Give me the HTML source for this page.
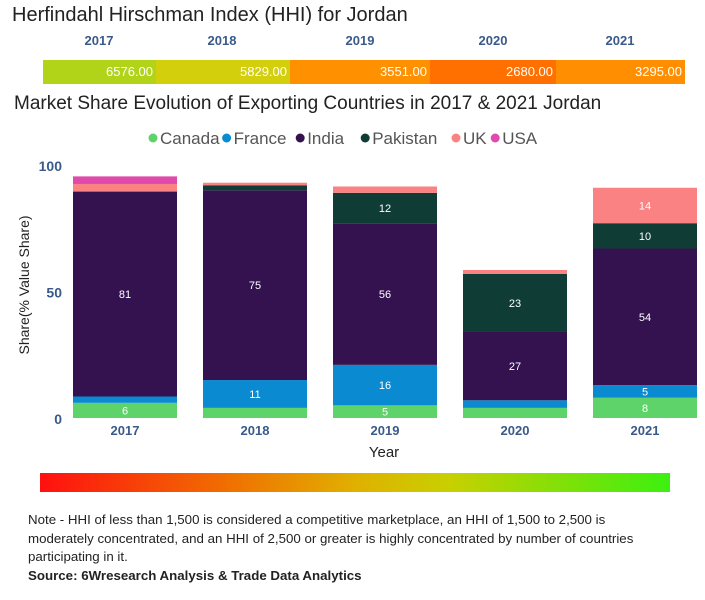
<!DOCTYPE html>
<html><head><meta charset="utf-8"><style>
body{margin:0;width:705px;height:600px;background:#fff;font-family:"Liberation Sans",sans-serif;position:relative;overflow:hidden}
.abs{position:absolute}
</style></head><body>
<div class="abs" style="left:12px;top:4px;font-size:20px;color:#222;">Herfindahl Hirschman Index (HHI) for Jordan</div>
<div id="hhi"></div>
<div class="abs" style="left:14px;top:93px;font-size:19px;color:#222;">Market Share Evolution of Exporting Countries in 2017 &amp; 2021 Jordan</div>
<svg id="chart" class="abs" style="left:0;top:120px" width="705" height="350"></svg>
<div class="abs" style="left:40px;top:473px;width:630px;height:19px;background:linear-gradient(to right,#ff1010,#f07000 30%,#e0b000 50%,#c8d000 65%,#3cf010);"></div>
<div class="abs" style="left:28px;top:511px;width:630px;font-size:13.3px;line-height:18.5px;color:#222;">Note - HHI of less than 1,500 is considered a competitive marketplace, an HHI of 1,500 to 2,500 is moderately concentrated, and an HHI of 2,500 or greater is highly concentrated by number of countries participating in it.<br><b>Source: 6Wresearch Analysis &amp; Trade Data Analytics</b></div>
<script>
const hhiYears=["2017","2018","2019","2020","2021"];
const hhiValues=[6576,5829,3551,2680,3295];
const years=["2017","2018","2019","2020","2021"];
const seriesNames=["Canada","France","India","Pakistan","UK","USA"];
const canada=[6,4,5,4,8];
const france=[2.5,11,16,3,5];
const india=[81,75,56,27,54];
const pakistan=[0,2,12,23,10];
const uk=[3,1,2.5,1.5,14];
const usa=[3,0,0,0,0];
const yTicks=[0,50,100];

const hhi=document.getElementById('hhi');
const segX=[43,156,290,430,556,685];
const segCol=["#b2d418","#d4cf0c","#ff9000","#ff7000","#ff8e00"];
hhiValues.forEach((v,i)=>{
  const d=document.createElement('div');
  
  
  d.className='abs';
  d.style.cssText=`left:${segX[i]}px;top:60px;width:${segX[i+1]-segX[i]}px;height:24px;background:${segCol[i]};color:#fff;font-size:13px;line-height:24px;text-align:right;box-sizing:border-box;padding-right:3px`;
  d.textContent=v.toFixed(2);
  hhi.appendChild(d);
  const l=document.createElement('div');
  
  
  l.className='abs';
  const cx=[99,222,360,493,620][i];
  l.style.cssText=`left:${cx-30}px;top:33px;width:60px;text-align:center;font-size:13px;font-weight:bold;color:#3a5a8a`;
  l.textContent=hhiYears[i];
  hhi.appendChild(l);
});

const NS='http://www.w3.org/2000/svg';
const svg=document.getElementById('chart');
const colors=["#5dd36a","#0a8ad0","#341250","#0f3d36","#fa8282","#e04aac"];
const data=[canada,france,india,pakistan,uk,usa];
const y0=298, pxPer=2.53;
const ys=v=>y0-v*pxPer;
const barW=104, x0=73, step=130;
const xs=i=>x0+i*step;
function el(t,a){const e=document.createElementNS(NS,t);for(const k in a)e.setAttribute(k,a[k]);svg.appendChild(e);return e;}
let lx=148;
seriesNames.forEach((n,i)=>{
  const g=el('g',{});
  
  
  const c=document.createElementNS(NS,'circle');c.setAttribute('cx',lx+5);c.setAttribute('cy',18);c.setAttribute('r',4.5);c.setAttribute('fill',colors[i]);g.appendChild(c);
  const t=document.createElementNS(NS,'text');t.setAttribute('x',lx+12);t.setAttribute('y',24);t.setAttribute('font-size','17');t.setAttribute('fill','#555');t.textContent=n;g.appendChild(t);
  lx+=12+n.length*8.6+10;
});
yTicks.forEach(v=>{
  const t=el('text',{x:62,y:ys(v)+6,'text-anchor':'end','font-size':'14','font-weight':'bold',fill:'#3a5a8a'});
  
  
  t.textContent=v;
});
const yt=el('text',{x:0,y:0,transform:'translate(29,165) rotate(-90)','text-anchor':'middle','font-size':'14',fill:'#222'});


yt.textContent='Share(% Value Share)';
years.forEach((yr,i)=>{
  let cum=0;
  data.forEach((s,k)=>{
    const v=s[i]; if(!v) {return;}
    const top=ys(cum+v), bot=ys(cum);
    const r=el('rect',{x:xs(i),y:top,width:barW,height:bot-top,fill:colors[k]});
    
    
    if(v>=4.5){
      const t=el('text',{x:xs(i)+barW/2,y:(top+bot)/2+4,'text-anchor':'middle','font-size':'11',fill:'#fff'});
      
      
      t.textContent=Math.round(v);
    }
    cum+=v;
  });
  const t=el('text',{x:xs(i)+barW/2,y:ys(0)+17,'text-anchor':'middle','font-size':'13','font-weight':'bold',fill:'#3a5a8a'});
  
  
  t.textContent=yr;
});
const xt=el('text',{x:384,y:337,'text-anchor':'middle','font-size':'15',fill:'#222'});


xt.textContent='Year';
</script>
</body></html>
